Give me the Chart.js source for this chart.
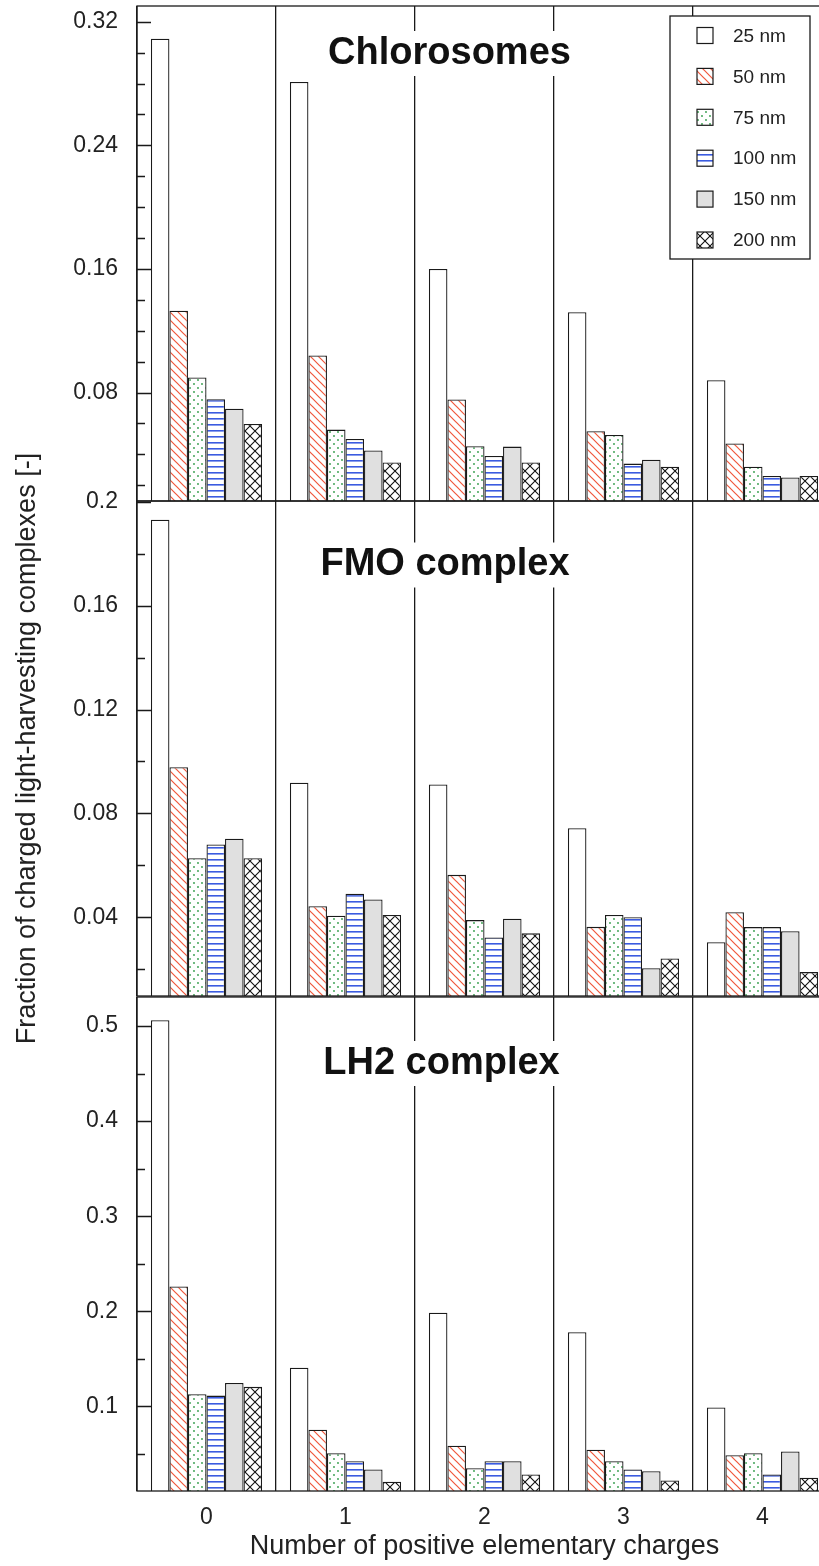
<!DOCTYPE html>
<html>
<head>
<meta charset="utf-8">
<script src="https://cdn.jsdelivr.net/npm/chart.js@4.4.0/dist/chart.umd.min.js"></script>
<style>
  html, body { margin: 0; padding: 0; background: #fff; }
  #wrap { position: relative; width: 819px; height: 1566px; overflow: hidden; }
  #wrap canvas { position: absolute; left: 0; }
</style>
</head>
<body>
<div id="wrap">
  <canvas id="chloro" width="834" height="575" style="top:-34px"></canvas>
  <canvas id="fmo" width="834" height="1175" style="top:161px"></canvas>
  <canvas id="lh2" width="834" height="609" style="top:957px"></canvas>
</div>
<script>
const charges = ['0', '1', '2', '3', '4']
const sizes = ['25 nm', '50 nm', '75 nm', '100 nm', '150 nm', '200 nm']

// Chlorosomes - one array per particle size, values for 0..4 charges
const chloro25 = [0.309, 0.281, 0.160, 0.132, 0.088]
const chloro50 = [0.133, 0.104, 0.0755, 0.055, 0.047]
const chloro75 = [0.0897, 0.056, 0.0453, 0.0525, 0.032]
const chloro100 = [0.0757, 0.050, 0.039, 0.034, 0.026]
const chloro150 = [0.0695, 0.0425, 0.045, 0.0365, 0.025]
const chloro200 = [0.0596, 0.0348, 0.0347, 0.032, 0.026]

// FMO complex
const fmo25 = [0.193, 0.0918, 0.0912, 0.0743, 0.0305]
const fmo50 = [0.0978, 0.0443, 0.0564, 0.0364, 0.042]
const fmo75 = [0.0628, 0.0407, 0.039, 0.041, 0.0363]
const fmo100 = [0.0681, 0.0491, 0.0323, 0.0401, 0.0363]
const fmo150 = [0.0703, 0.0469, 0.0395, 0.0205, 0.0347]
const fmo200 = [0.0628, 0.041, 0.0339, 0.0242, 0.019]

// LH2 complex
const lh225 = [0.506, 0.1406, 0.1984, 0.178, 0.0988]
const lh250 = [0.226, 0.0754, 0.0586, 0.0544, 0.0487]
const lh275 = [0.1128, 0.0508, 0.035, 0.0424, 0.0508]
const lh2100 = [0.1113, 0.0424, 0.0424, 0.0336, 0.0284]
const lh2150 = [0.1247, 0.0336, 0.0424, 0.0319, 0.0526]
const lh2200 = [0.1205, 0.0207, 0.0284, 0.0221, 0.0249]

const FONT = "'Liberation Sans', Arial, sans-serif"
Chart.defaults.font.family = FONT
Chart.defaults.color = '#222'

// fill patterns for the six sizes
function makeFill(kind) {
  const c = document.createElement('canvas')
  const g = c.getContext('2d')
  const n = kind === 'lines' ? 6 : kind === 'cross' ? 10 : 8
  c.width = c.height = n
  g.fillStyle = kind === 'gray' ? '#e0e0e0' : '#fff'
  g.fillRect(0, 0, n, n)
  if (kind === 'hatch') {
    g.strokeStyle = '#f0583c'
    g.lineWidth = 1.2
    g.beginPath()
    g.moveTo(-1, -1); g.lineTo(n + 1, n + 1)
    g.moveTo(-1, n - 1); g.lineTo(1, n + 1)
    g.moveTo(n - 1, -1); g.lineTo(n + 1, 1)
    g.stroke()
  } else if (kind === 'dots') {
    g.fillStyle = '#2f9a46'
    g.beginPath(); g.arc(2, 2, 0.9, 0, Math.PI * 2); g.fill()
    g.beginPath(); g.arc(6, 6, 0.9, 0, Math.PI * 2); g.fill()
  } else if (kind === 'lines') {
    g.fillStyle = '#3b5be0'
    g.fillRect(0, 2, n, 1.6)
  } else if (kind === 'cross') {
    g.strokeStyle = '#111'
    g.lineWidth = 1.1
    g.beginPath()
    g.moveTo(0, 0); g.lineTo(n, n)
    g.moveTo(0, n); g.lineTo(n, 0)
    g.stroke()
  }
  return g.createPattern(c, 'repeat')
}
const fills = ['#fff', makeFill('hatch'), makeFill('dots'), makeFill('lines'), makeFill('gray'), makeFill('cross')]

// frame, inward tick marks, panel title and legend
const decor = {
  id: 'decor',
  afterDatasetsDraw(chart) {
    const { ctx, chartArea: a, scales: { y } } = chart
    ctx.save()
    ctx.strokeStyle = '#1a1a1a'
    ctx.lineWidth = 1.3
    ctx.beginPath()
    y.ticks.forEach(t => {
      const py = Math.round(y.getPixelForValue(t.value)) + 0.5
      ctx.moveTo(a.left, py)
      ctx.lineTo(a.left + (t.label ? 14 : 8), py)
    })
    ctx.stroke()
    ctx.strokeRect(a.left, a.top, a.right - a.left, a.bottom - a.top)
    ctx.restore()
  },
  afterDraw(chart, args, opts) {
    const { ctx, chartArea: a } = chart
    ctx.save()
    ctx.font = `bold ${opts.size}px ${FONT}`
    const w = ctx.measureText(opts.title).width
    const cx = a.left + opts.dx
    const cy = a.top + opts.dy
    ctx.fillStyle = '#fff'
    ctx.fillRect(cx - w / 2 - 6, cy - 22.5, w + 12, 45)
    ctx.fillStyle = '#111'
    ctx.textAlign = 'center'
    ctx.textBaseline = 'middle'
    ctx.fillText(opts.title, cx, cy)

    if (opts.legend) {
      const right = a.right - 22, top = a.top + 10
      const left = right - 140
      ctx.fillStyle = '#fff'
      ctx.fillRect(left, top, 140, 243)
      ctx.strokeStyle = '#1a1a1a'
      ctx.lineWidth = 1.3
      ctx.strokeRect(left, top, 140, 243)
      ctx.font = `19px ${FONT}`
      ctx.textAlign = 'left'
      chart.data.datasets.forEach((ds, i) => {
        const yc = top + 19.5 + i * 40.9
        ctx.fillStyle = ds.backgroundColor
        ctx.fillRect(left + 27, yc - 8, 16, 16)
        ctx.lineWidth = 1.2
        ctx.strokeRect(left + 27, yc - 8, 16, 16)
        ctx.fillStyle = '#222'
        ctx.fillText(ds.label, left + 63, yc + 1)
      })
    }
    ctx.restore()
  }
}

function panel(id, series, y, deco, pad, bottomAxis) {
  const ctx = document.getElementById(id).getContext('2d')
  return new Chart(ctx, {
    type: 'bar',
    data: {
      labels: charges,
      datasets: series.map((values, i) => ({
        label: sizes[i],
        data: values,
        backgroundColor: fills[i],
        borderColor: '#1a1a1a',
        borderWidth: 1.3,
        barPercentage: 1,
        categoryPercentage: 0.8
      }))
    },
    options: {
      responsive: false,
      animation: false,
      layout: { padding: { top: pad[0], bottom: pad[1], left: 0, right: 2 } },
      plugins: {
        legend: { display: false },
        tooltip: { enabled: false },
        decor: deco
      },
      scales: {
        x: {
          grid: { color: '#1a1a1a', lineWidth: 1.3, drawTicks: false, offset: true },
          border: { display: false },
          ticks: { display: !!bottomAxis, padding: 13, font: { size: 23 } },
          title: {
            display: !!bottomAxis,
            text: 'Number of positive elementary charges',
            font: { size: 27 },
            padding: { top: 0, bottom: 3 }
          },
          afterFit: s => { s.height = bottomAxis ? 75 : 0 }
        },
        y: {
          min: y.min,
          max: y.max,
          beginAtZero: false,
          grid: { display: false, drawTicks: false },
          border: { display: false },
          ticks: {
            stepSize: y.step,
            includeBounds: false,
            autoSkip: false,
            padding: 19,
            font: { size: 23 },
            callback: v => {
              const k = Math.round(v / y.step)
              return k % y.every === 0 ? String(Number(v.toFixed(2))) : ''
            }
          },
          title: {
            display: !!y.title,
            text: y.title || '',
            font: { size: 27 },
            padding: { top: 11, bottom: 0 }
          },
          afterFit: s => { s.width = 137 }
        }
      }
    },
    plugins: [decor]
  })
}

panel('chloro',
  [chloro25, chloro50, chloro75, chloro100, chloro150, chloro200],
  { min: 0.0098, max: 0.3302, step: 0.02, every: 4 },
  { title: 'Chlorosomes', size: 38, dx: 312.5, dy: 47.5, legend: true },
  [40, 40])

panel('fmo',
  [fmo25, fmo50, fmo75, fmo100, fmo150, fmo200],
  { min: 0.0098, max: 0.2002, step: 0.02, every: 2, title: 'Fraction of charged light-harvesting complexes [-]' },
  { title: 'FMO complex', size: 38, dx: 308, dy: 64 },
  [340, 340])

panel('lh2',
  [lh225, lh250, lh275, lh2100, lh2150, lh2200],
  { min: 0.011, max: 0.5305, step: 0.05, every: 2 },
  { title: 'LH2 complex', size: 38, dx: 304.5, dy: 66.5 },
  [40, 0], true)
</script>
</body>
</html>
